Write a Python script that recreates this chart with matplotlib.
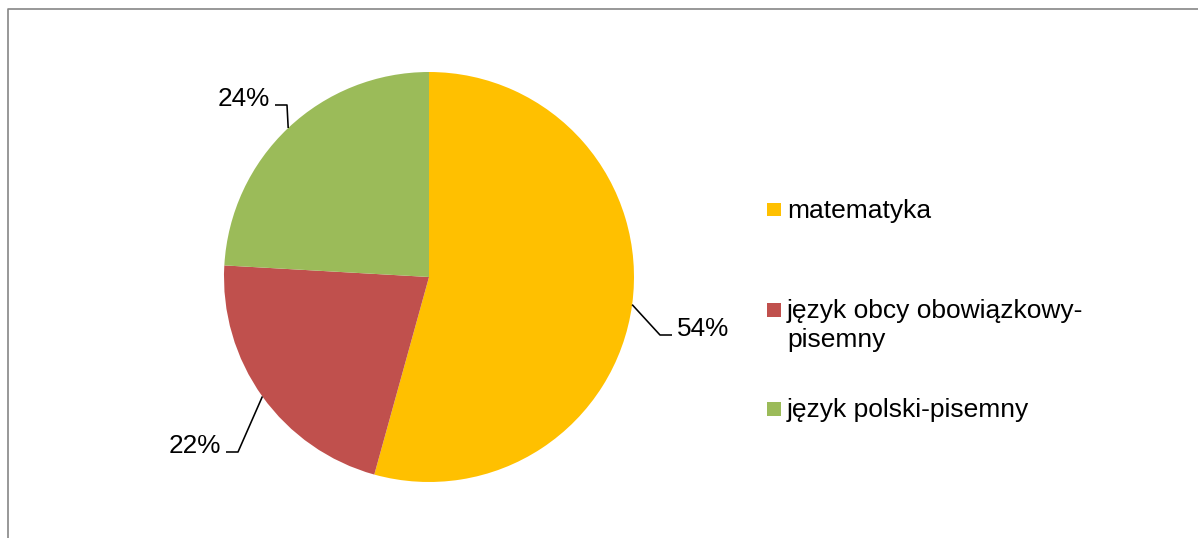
import matplotlib.pyplot as plt
from matplotlib.patches import Rectangle
from matplotlib.lines import Line2D
import numpy as np

plt.rcParams['font.family'] = ['Liberation Sans', 'DejaVu Sans']

# dane
przedmioty = ["matematyka", "język obcy obowiązkowy-\npisemny", "język polski-pisemny"]
procenty = [54.3, 21.6, 24.1]
kolory = ["#FFC000", "#C0504D", "#9BBB59"]

W, H = 1198, 538
CX, CY, R = 429, 277, 205  # srodek i promien kola w pikselach

fig = plt.figure(figsize=(W / 100, H / 100), dpi=100)
fig.patch.set_facecolor("white")
ax = fig.add_axes([0, 0, 1, 1])

wedges, _ = ax.pie(procenty, colors=kolory, startangle=90, counterclock=False,
                   radius=1, center=(0, 0), wedgeprops=dict(linewidth=0))
ax.set_xlim(-CX / R, (W - CX) / R)
ax.set_ylim((CY - H) / R, CY / R)
ax.set_aspect("auto")
ax.axis("off")


def px(x):
    return (x - CX) / R


def py(y):
    return (CY - y) / R


# etykiety z liniami odniesienia (kolano, koniec, tekst, wyrownanie)
etykiety = [
    ((660, 335), (672, 335), (677, 336), "left"),
    ((238, 452), (226, 452), (221, 453), "right"),
    ((287, 105), (275, 105), (270, 106), "right"),
]
for w, v, (kolano, koniec, tekst, ha) in zip(wedges, procenty, etykiety):
    kat = np.deg2rad((w.theta1 + w.theta2) / 2)
    sx, sy = np.cos(kat), np.sin(kat)
    ax.plot([sx, px(kolano[0]), px(koniec[0])], [sy, py(kolano[1]), py(koniec[1])],
            color="black", lw=1.15, solid_capstyle="butt")
    ax.text(px(tekst[0]), py(tekst[1]), f"{round(v)}%", ha=ha, va="baseline",
            fontsize=18.8, color="black")

# legenda
leg_y = [203, 303, 402]
for nazwa, kol, y in zip(przedmioty, kolory, leg_y):
    fig.add_artist(Rectangle((767 / W, 1 - (y + 13.5) / H), 13.5 / W, 13.5 / H,
                             transform=fig.transFigure, facecolor=kol, edgecolor="none"))
    linie = nazwa.count("\n")
    fig.text(787 / W, 1 - (y + 15 + 29 * linie) / H, nazwa, ha="left", va="baseline",
             fontsize=19, linespacing=1.25, color="black")

# ramka
fig.add_artist(Line2D([7.5 / W, 7.5 / W, 1.0], [0.0, 1 - 8.5 / H, 1 - 8.5 / H],
                      transform=fig.transFigure, color="#868686", lw=1.2))

fig.savefig("out.png", dpi=100)
